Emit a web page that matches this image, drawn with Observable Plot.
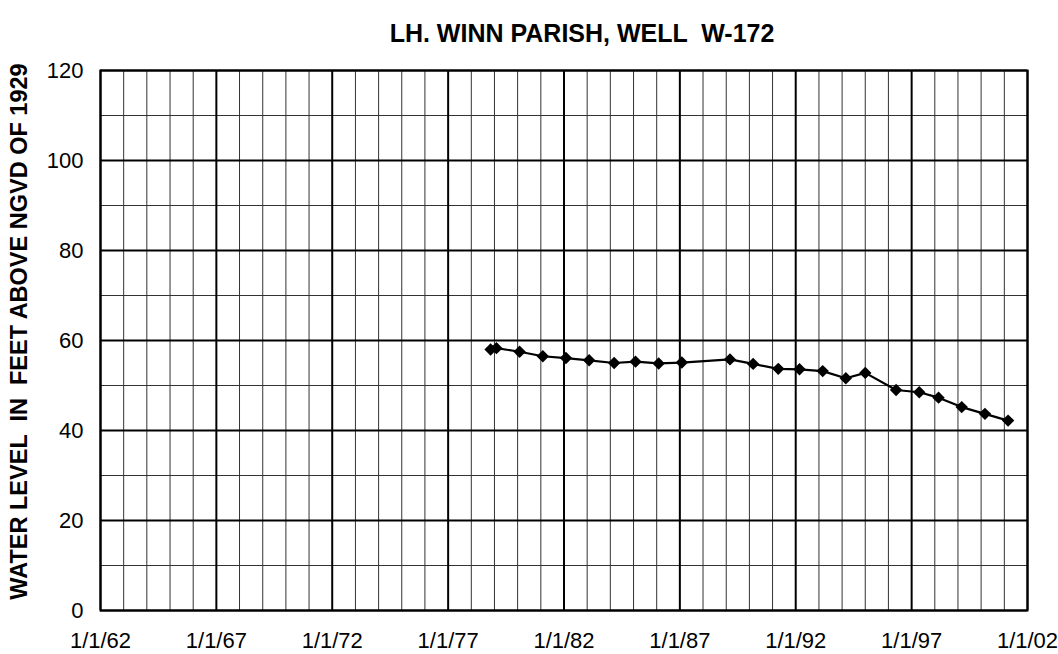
<!DOCTYPE html>
<html>
<head>
<meta charset="utf-8">
<script src="https://cdn.jsdelivr.net/npm/d3@7"></script>
<script src="https://cdn.jsdelivr.net/npm/@observablehq/plot@0.6"></script>
<style>
  html, body { margin: 0; padding: 0; background: #fff; }
  #chart { width: 1058px; height: 654px; position: relative; }
</style>
</head>
<body>
<div id="chart"></div>
<script>
const title = "LH. WINN PARISH, WELL  W-172";
const yLabel = "WATER LEVEL  IN  FEET ABOVE NGVD OF 1929";

const dates = [
  "1978-11-01", "1979-02-01", "1980-02-01", "1981-02-01", "1982-02-01",
  "1983-02-01", "1984-03-01", "1985-02-01", "1986-02-01", "1987-02-01",
  "1989-03-01", "1990-03-01", "1991-04-01", "1992-03-01", "1993-03-01",
  "1994-03-01", "1995-01-01", "1996-05-01", "1997-05-01", "1998-03-01",
  "1999-03-01", "2000-03-01", "2001-03-01"
];
const levels = [
  58.0, 58.3, 57.5, 56.5, 56.1,
  55.6, 55.0, 55.3, 54.9, 55.1,
  55.8, 54.8, 53.7, 53.6, 53.2,
  51.6, 52.8, 49.0, 48.5, 47.3,
  45.2, 43.7, 42.2
];
const xTickYears = [1962, 1967, 1972, 1977, 1982, 1987, 1992, 1997, 2002];
const yTicks = [0, 20, 40, 60, 80, 100, 120];
const yMinor = [10, 30, 50, 70, 90, 110];

const data = dates.map((d, i) => ({date: new Date(d + "T00:00:00Z"), level: levels[i]}));
const xMajor = xTickYears.map(y => new Date(Date.UTC(y, 0, 1)));
const xMinor = d3.utcYear.range(new Date(Date.UTC(1962, 0, 1)), new Date(Date.UTC(2002, 0, 2)))
  .filter(d => !xTickYears.includes(d.getUTCFullYear()));

const plot = Plot.plot({
  width: 1058,
  height: 654,
  marginLeft: 100,
  marginRight: 31,
  marginTop: 70,
  marginBottom: 44,
  style: {fontFamily: "'Liberation Sans', Arial, sans-serif", fontSize: "22px", color: "#000", background: "#fff"},
  x: {
    type: "utc",
    domain: [new Date(Date.UTC(1962, 0, 1)), new Date(Date.UTC(2002, 0, 1))],
    ticks: xMajor,
    tickFormat: d => `1/1/${String(d.getUTCFullYear()).slice(2)}`,
    tickSize: 0,
    tickPadding: 22,
    label: null
  },
  y: {
    domain: [0, 120],
    ticks: yTicks,
    tickSize: 0,
    tickPadding: 17,
    label: null
  },
  marks: [
    Plot.ruleX(xMinor, {stroke: "#333", strokeWidth: 1}),
    Plot.ruleY(yMinor, {stroke: "#333", strokeWidth: 1}),
    Plot.ruleX(xMajor, {stroke: "#000", strokeWidth: 2}),
    Plot.ruleY(yTicks, {stroke: "#000", strokeWidth: 2}),
    Plot.frame({stroke: "#000", strokeWidth: 2}),
    Plot.line(data, {x: "date", y: "level", stroke: "#000", strokeWidth: 2.2}),
    Plot.dot(data, {x: "date", y: "level", symbol: "diamond2", r: 5.6, fill: "#000", stroke: "none"}),
    Plot.text([title], {frameAnchor: "top", dy: -46, dx: 18, fontSize: 25, fontWeight: "bold", text: d => d}),
    Plot.text([yLabel], {frameAnchor: "left", textAnchor: "middle", dx: -81, dy: -9, rotate: -90, fontSize: 23.5, fontWeight: "bold", text: d => d})
  ]
});
document.getElementById("chart").appendChild(plot);
</script>
</body>
</html>
